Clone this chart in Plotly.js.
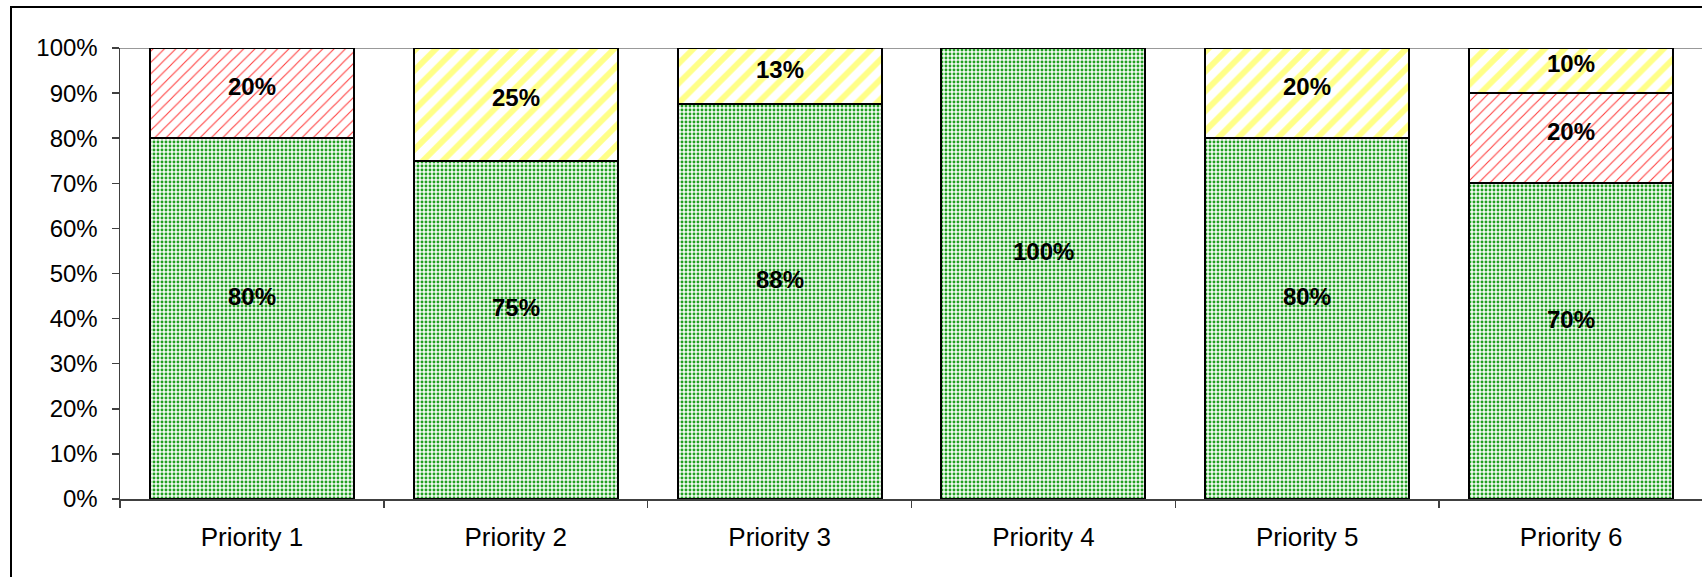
<!DOCTYPE html>
<html>
<head>
<meta charset="utf-8">
<script src="https://cdn.plot.ly/plotly-3.0.1.min.js"></script>
<style>
html,body{margin:0;padding:0;overflow:hidden;background:#fff;width:1702px;height:577px;}
#frame{position:absolute;left:10px;top:6px;width:1740px;height:620px;border:2px solid #000;box-sizing:border-box;}
#chart{position:absolute;left:0;top:0;}
</style>
</head>
<body>
<div id="frame"></div>
<div id="chart"></div>
<script>
const categories = ["Priority 1","Priority 2","Priority 3","Priority 4","Priority 5","Priority 6"];
const greenValues  = [80, 75, 87.5, 100, 80, 70];
const redValues    = [20, null, null, null, null, 20];
const yellowValues = [null, 25, 12.5, null, 20, 10];
const yTicks = [0,10,20,30,40,50,60,70,80,90,100];

const series = [
  {vals: greenValues, pattern:{shape:".", size:4, solidity:0.42, fgcolor:"#22a022", bgcolor:"#f4fbf4", fillmode:"replace"}, color:"#f4fbf4", shift:22},
  {vals: redValues, pattern:{shape:"/", size:8, solidity:0.14, fgcolor:"#ff4040", bgcolor:"#ffffff", fillmode:"replace"}, color:"#ffffff", shift:7},
  {vals: yellowValues, pattern:{shape:"/", size:14, solidity:0.42, fgcolor:"#ffff88", bgcolor:"#ffffff", fillmode:"replace"}, color:"#ffffff", shift:7}
];

const traces = series.map(s => ({
  type:"bar", x:categories, y:s.vals,
  marker:{color:s.color, pattern:s.pattern, line:{color:"#000", width:2}},
  hoverinfo:"skip", showlegend:false
}));

const annotations = [];
const base = categories.map(()=>0);
series.forEach(s => {
  s.vals.forEach((v,i) => {
    if (v == null) return;
    annotations.push({
      x: categories[i], y: base[i] + v/2, xref:"x", yref:"y",
      text: "<b>" + Math.round(v) + "%</b>", showarrow:false, yshift:s.shift,
      font:{family:"Liberation Sans, Arial, sans-serif", size:24, color:"#000"}
    });
    base[i] += v;
  });
});

const layout = {
  width:1720, height:577,
  margin:{l:120, r:17, t:48, b:78},
  paper_bgcolor:"rgba(0,0,0,0)", plot_bgcolor:"rgba(0,0,0,0)",
  barmode:"stack", bargap:0.227,
  font:{family:"Liberation Sans, Arial, sans-serif", color:"#000"},
  xaxis:{
    type:"category", range:[-0.5,5.5], tickson:"boundaries", ticks:"outside", ticklen:7, tickwidth:1.5,
    tickcolor:"#404040", showline:true, linecolor:"#404040", linewidth:1.5, showgrid:false,
    tickfont:{size:26, family:"Liberation Sans, Arial, sans-serif", color:"#000"}, ticklabelstandoff:14, zeroline:false
  },
  yaxis:{
    range:[0,100], tickvals:yTicks, ticktext:yTicks.map(t=>t+"%"), ticks:"outside", ticklen:7, tickwidth:1.5,
    tickcolor:"#404040", showline:true, linecolor:"#404040", linewidth:1.5, showgrid:false, zeroline:false,
    tickfont:{size:24, family:"Liberation Sans, Arial, sans-serif", color:"#000"}, ticklabelstandoff:9
  },
  shapes:[{type:"line", xref:"paper", yref:"y", x0:0, x1:1, y0:100, y1:100, line:{color:"#999", width:2}, layer:"below"}],
  annotations: annotations
};

Plotly.newPlot("chart", traces, layout, {displayModeBar:false, staticPlot:true});
</script>
</body>
</html>
